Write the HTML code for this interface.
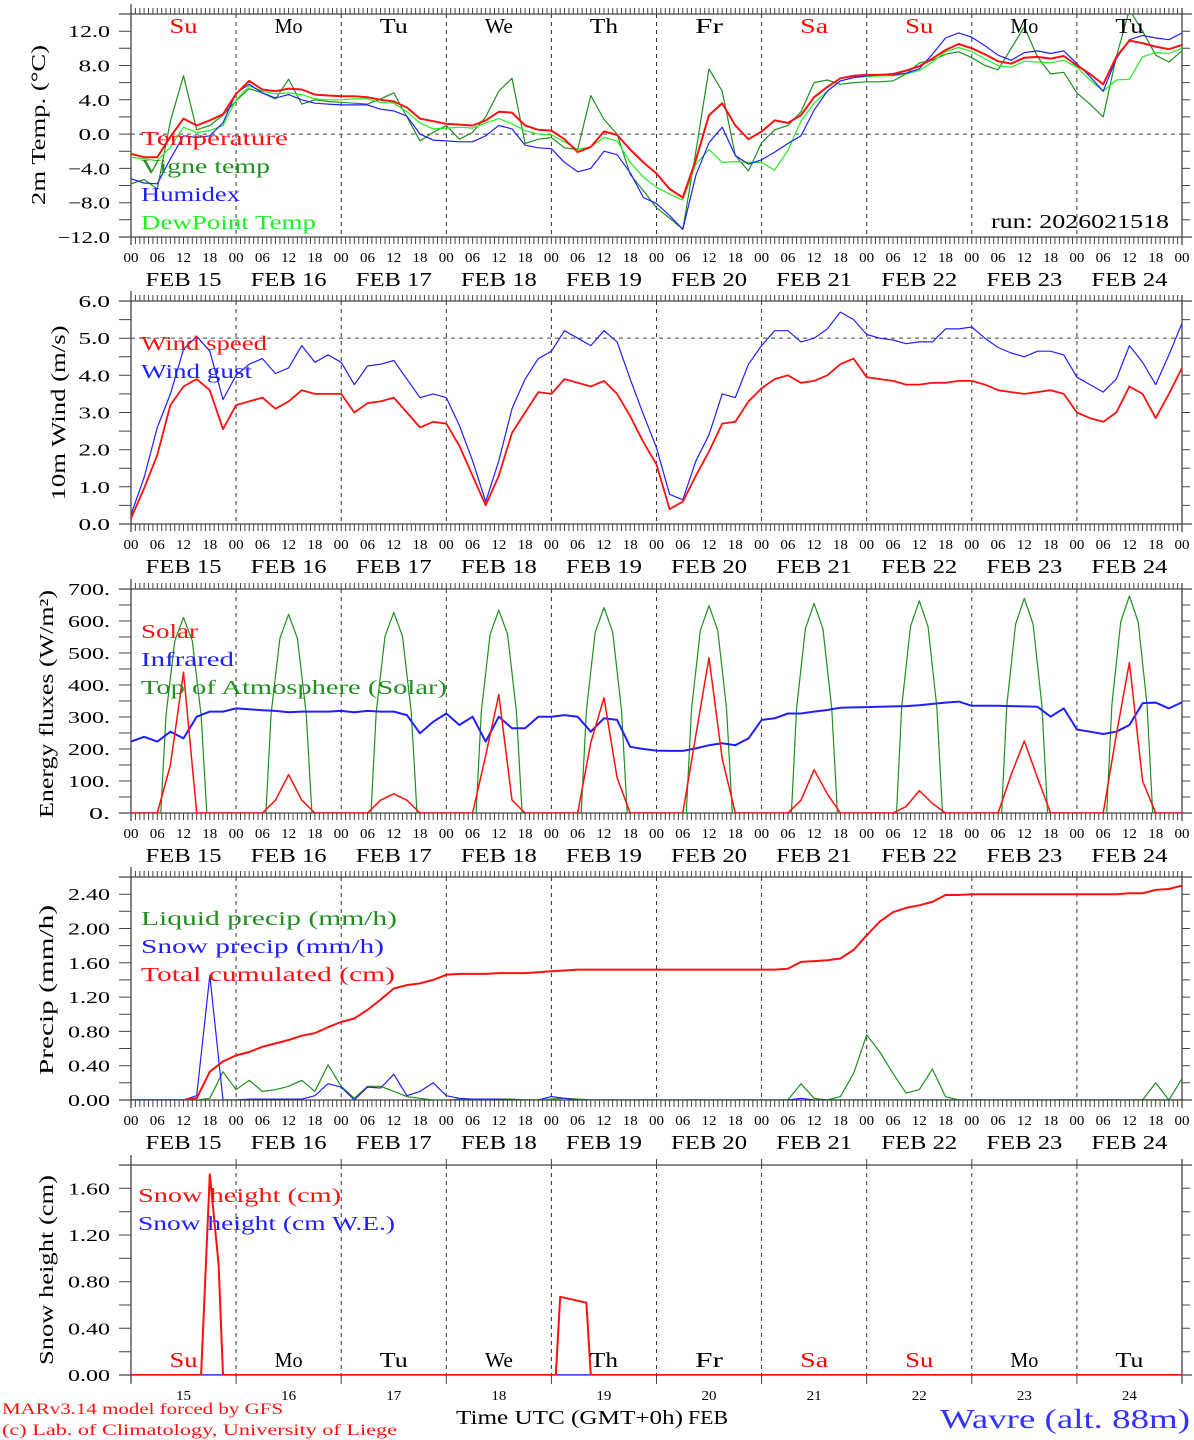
<!DOCTYPE html>
<html><head><meta charset="utf-8"><title>MAR meteogram Wavre</title>
<style>
html,body{margin:0;padding:0;background:#fff;}
svg{display:block;font-family:"Liberation Serif","DejaVu Serif",serif;}
</style></head>
<body>
<svg id="chart" xmlns="http://www.w3.org/2000/svg" width="1194" height="1440" viewBox="0 0 1194 1440"></svg>
<script>
// ---------- data (3-hourly, 81 points: FEB 15 00h .. FEB 25 00h) ----------
const dayNames = ["Su","Mo","Tu","We","Th","Fr","Sa","Su","Mo","Tu"];
const dayNameColors = ["#ff0000","#000","#000","#000","#000","#000","#ff0000","#ff0000","#000","#000"];
const dateLabels = ["FEB 15","FEB 16","FEB 17","FEB 18","FEB 19","FEB 20","FEB 21","FEB 22","FEB 23","FEB 24"];
const dayNumbers = ["15","16","17","18","19","20","21","22","23","24"];
const hourLabels = ["00","06","12","18"];

const tempVals = [-2.3,-2.7,-2.7,-0.3,1.8,1.0,1.6,2.3, 4.7,6.2,5.2,5.0,5.3,5.2,4.6,4.5, 4.4,4.4,4.3,4.0,3.8,3.1,1.8,1.5, 1.2,1.1,1.0,1.6,2.6,2.5,1.0,0.5, 0.4,-0.6,-2.1,-1.5,0.3,-0.1,-1.8,-3.3, -4.6,-6.4,-7.4,-3.0,2.2,3.6,1.0,-0.6, 0.3,1.6,1.3,2.2,4.3,5.5,6.5,6.8, 6.9,6.9,7.0,7.4,7.9,8.8,9.8,10.5, 10.0,9.3,8.5,8.2,8.9,9.0,8.8,9.1, 8.0,7.0,5.8,9.0,10.9,10.6,10.2,9.9,10.4];
const vigneVals = [-5.8,-5.3,-6.4,1.5,6.8,0.5,1.0,2.2, 3.9,5.3,4.8,4.1,6.4,3.5,4.0,3.8, 3.7,3.6,3.5,4.1,4.8,2.0,-0.8,0.2, 1.0,-0.6,0.2,2.0,5.0,6.5,-1.1,-0.6, -0.4,-1.6,-1.8,4.5,1.7,0.0,-4.7,-6.6, -8.6,-9.8,-11.1,-2.0,7.6,5.0,-2.5,-4.3, -1.0,0.5,1.0,2.6,6.0,6.3,5.8,6.0, 6.1,6.1,6.2,7.0,8.3,8.6,9.3,9.6, 8.9,8.0,7.5,10.0,12.5,9.0,7.0,7.2, 4.8,3.5,2.0,9.0,14.5,12.0,9.2,8.4,9.7];
const humidexVals = [-5.2,-5.7,-5.8,-2.9,-0.2,-0.4,-0.2,1.3, 4.8,5.8,4.8,4.2,4.6,4.0,3.6,3.5, 3.4,3.4,3.4,2.9,2.7,2.1,0.0,-0.7, -0.8,-0.9,-0.9,-0.2,1.0,0.6,-1.3,-1.6, -1.7,-3.3,-4.4,-4.0,-2.0,-2.4,-4.5,-7.4, -8.1,-9.5,-11.1,-4.8,-1.0,0.8,-2.5,-3.5, -3.0,-2.1,-1.1,-0.2,2.8,5.0,6.2,6.6, 6.8,6.9,6.9,7.1,7.6,9.3,11.2,11.8, 11.3,10.3,9.2,8.6,9.5,9.7,9.4,9.7, 8.2,6.7,5.0,8.8,11.0,11.5,11.2,11.0,11.8];
const dewVals = [-2.7,-2.9,-3.1,-1.5,0.8,0.2,0.4,1.0, 4.0,5.6,5.0,4.7,4.8,4.6,4.1,4.0, 4.0,4.1,4.1,3.7,3.6,2.6,1.3,0.6, 0.7,0.8,0.7,1.3,1.8,1.2,0.4,0.0, -0.1,-0.9,-1.8,-1.5,-0.4,-0.8,-3.3,-5.0, -6.2,-7.0,-7.7,-3.5,-1.8,-3.3,-3.2,-3.3, -3.3,-4.2,-1.9,1.5,3.6,5.0,6.2,6.6, 6.7,6.8,6.8,7.0,7.4,8.4,9.6,10.1, 9.6,8.8,8.0,7.8,8.5,8.4,8.3,8.6, 7.8,6.3,5.0,6.3,6.4,9.0,9.5,9.4,10.0];

const windVals = [0.15,0.96,1.86,3.2,3.7,3.9,3.6,2.55, 3.2,3.3,3.4,3.1,3.3,3.6,3.5,3.5, 3.5,3.0,3.25,3.3,3.4,3.0,2.6,2.75, 2.7,2.1,1.3,0.5,1.3,2.45,3.0,3.55, 3.5,3.9,3.8,3.7,3.85,3.5,2.9,2.2, 1.6,0.4,0.6,1.3,1.95,2.7,2.75,3.3, 3.65,3.9,4.0,3.8,3.85,4.0,4.3,4.45, 3.95,3.9,3.85,3.75,3.75,3.8,3.8,3.85, 3.85,3.75,3.6,3.55,3.5,3.55,3.6,3.5, 3.0,2.85,2.75,3.0,3.7,3.5,2.85,3.5,4.2];
const gustVals = [0.25,1.25,2.6,3.5,4.7,5.05,4.65,3.35, 4.0,4.3,4.45,4.05,4.2,4.8,4.35,4.55, 4.35,3.75,4.25,4.3,4.4,3.9,3.4,3.5, 3.4,2.65,1.7,0.6,1.7,3.1,3.9,4.45, 4.65,5.2,5.0,4.8,5.2,4.9,3.9,2.95, 2.05,0.8,0.65,1.7,2.4,3.5,3.4,4.3, 4.8,5.2,5.2,4.9,5.0,5.25,5.7,5.5, 5.1,5.0,4.95,4.85,4.9,4.9,5.25,5.25, 5.3,5.0,4.75,4.6,4.5,4.65,4.65,4.55, 3.95,3.75,3.55,3.9,4.8,4.35,3.75,4.55,5.4];

const solarVals = [0,0,0,150,440,0,0,0, 0,0,0,40,120,40,0,0, 0,0,0,40,60,40,0,0, 0,0,0,180,370,40,0,0, 0,0,0,220,360,110,0,0, 0,0,0,244,485,170,0,0, 0,0,0,40,135,60,0,0, 0,0,0,20,70,30,0,0, 0,0,0,120,225,110,0,0, 0,0,0,244,470,100,0,0,0];
const infraredVals = [223,238,223,254,233,301,317,317, 327,324,321,319,315,317,317,317, 319,315,319,317,317,306,249,285, 311,275,301,223,301,265,265,301, 301,306,301,254,296,291,207,200, 195,194,194,202,212,218,212,233, 291,296,311,311,317,322,329,330, 331,332,333,334,337,341,345,348, 335,335,335,334,333,332,301,327, 261,254,247,254,275,343,345,327,346];
const toaHours = [0, 6.8,8,10,12,14,16,17.3, 30.8,32,34,36,38,40,41.3, 54.8,56,58,60,62,64,65.3, 78.8,80,82,84,86,88,89.3, 102.8,104,106,108,110,112,113.3, 126.8,128,130,132,134,136,137.3, 150.8,152,154,156,158,160,161.3, 174.8,176,178,180,182,184,185.3, 198.8,200,202,204,206,208,209.3, 222.8,224,226,228,230,232,233.3, 240];
const toaVals = [0, 0,306,538,611,538,306,0, 0,310,546,621,546,310,0, 0,314,552,627,552,314,0, 0,317,558,634,558,317,0, 0,321,565,642,565,321,0, 0,324,570,648,570,324,0, 0,328,576,655,576,328,0, 0,332,583,663,583,332,0, 0,336,590,671,590,336,0, 0,339,597,678,597,339,0, 0];

const liquidVals = [0,0,0,0,0,0,0.02,0.33, 0.12,0.23,0.10,0.12,0.16,0.23,0.10,0.41, 0.16,0.02,0.16,0.16,0.10,0.04,0.02,0, 0,0.01,0.01,0.01,0.01,0.01,0,0, 0.01,0.02,0.01,0,0,0,0,0, 0,0,0,0,0,0,0,0, 0,0,0,0.19,0.02,0,0.04,0.31, 0.76,0.56,0.31,0.08,0.12,0.36,0.04,0, 0,0,0,0,0,0,0,0, 0,0,0,0,0,0,0.2,0,0.25];
const snowVals = [0,0,0,0,0,0.05,1.45,0, 0,0.01,0.01,0.01,0.01,0.01,0.05,0.19, 0.15,0,0.15,0.14,0.30,0.05,0.10,0.20, 0.05,0.02,0.01,0.01,0.01,0,0,0, 0.04,0.02,0,0,0,0,0,0, 0,0,0,0,0,0,0,0, 0,0,0,0.02,0,0,0,0, 0,0,0,0,0,0,0,0, 0,0,0,0,0,0,0,0, 0,0,0,0,0,0,0,0,0];
const cumulVals = [0,0,0,0,0,0.02,0.33,0.45, 0.52,0.56,0.62,0.66,0.70,0.75,0.78,0.85, 0.91,0.95,1.05,1.17,1.30,1.34,1.36,1.40, 1.46,1.47,1.47,1.47,1.48,1.48,1.48,1.49, 1.50,1.51,1.52,1.52,1.52,1.52,1.52,1.52, 1.52,1.52,1.52,1.52,1.52,1.52,1.52,1.52, 1.52,1.52,1.53,1.61,1.62,1.63,1.65,1.75, 1.92,2.08,2.19,2.24,2.27,2.31,2.39,2.39, 2.40,2.40,2.40,2.40,2.40,2.40,2.40,2.40, 2.40,2.40,2.40,2.40,2.41,2.41,2.45,2.46,2.50];

const snowHeightHours = [0,16,18,20,21,97,98,104,105,240];
const snowHeightVals = [0,0,1.72,0.95,0,0,0.67,0.62,0,0];
const snowWEHours = [0,240];
const snowWEVals = [0,0];

// ---------- layout ----------
const NS = "http://www.w3.org/2000/svg";
const svg = document.getElementById("chart");
const X0 = 131, X1 = 1182, DAYW = (X1 - X0) / 10;
function xh(h){ return X0 + h * DAYW / 24; }
const panels = [
  {top:14, bot:237, min:-12, max:14, step:2, lab:4, fmt:v=>v.toFixed(1), name:"temperature-panel"},
  {top:301, bot:524, min:0, max:6, step:0.5, lab:1, fmt:v=>v.toFixed(1), name:"wind-panel"},
  {top:589, bot:813, min:0, max:700, step:50, lab:100, fmt:v=>v.toFixed(0)+".", name:"energy-panel"},
  {top:877, bot:1100, min:0, max:2.6, step:0.2, lab:0.4, fmt:v=>v.toFixed(2), name:"precip-panel"},
  {top:1165, bot:1375, min:0, max:1.8, step:0.2, lab:0.4, fmt:v=>v.toFixed(2), name:"snow-panel"}
];
function yv(p, v){ return p.bot - (v - p.min) * (p.bot - p.top) / (p.max - p.min); }

function mk(tag, attrs, parent){
  const e = document.createElementNS(NS, tag);
  for (const k in attrs) e.setAttribute(k, attrs[k]);
  (parent || svg).appendChild(e);
  return e;
}
function txt(str, x, y, size, color, anchor, len, parent){
  const t = mk("text", {x:x, y:y, "font-size":size, fill:color, "text-anchor":anchor}, parent);
  if (len){ t.setAttribute("textLength", len); t.setAttribute("lengthAdjust", "spacingAndGlyphs"); }
  t.textContent = str;
  return t;
}

const defs = mk("defs", {});
panels.forEach((p, i) => {
  const cp = mk("clipPath", {id:"clip"+i}, defs);
  mk("rect", {x:X0, y:p.top, width:X1-X0, height:p.bot-p.top}, cp);
});

panels.forEach((p, pi) => {
  const g = mk("g", {});
  
  
  for (let d = 1; d < 10; d++){
    const l = mk("line", {x1:xh(d*24), x2:xh(d*24), y1:p.top, y2:p.bot, stroke:"#333", "stroke-width":1, "stroke-dasharray":"4,4"}, g);
    
    
  }
  const fr = mk("path", {d:`M119 ${p.top}H1192M119 ${p.bot}H1192M${X0} ${p.top-10}V${p.bot+8}M${X1} ${p.top-6}V${p.bot+8}`, stroke:"#444", "stroke-width":1.3, fill:"none"}, g);
  
  
  let td = "";
  const n = Math.round((p.max - p.min) / p.step);
  for (let k = 0; k <= n; k++){
    const v = p.min + k * p.step;
    const y = yv(p, v).toFixed(1);
    td += `M119 ${y}H${X0}M${X1} ${y}H1190`;
    const r = Math.abs((v - p.min) / p.lab - Math.round((v - p.min) / p.lab));
    if (r < 1e-6 && v <= p.max - (pi === 0 ? 2 : pi === 3 || pi === 4 ? 0.2 : 0) + 1e-9){
      let s = p.fmt(v); if (v < 0) s = "\u2212" + s.slice(1);
      const t = txt(s, 110, +y + 6, 17, "#000", "end", s.length * 10.5, g);
      
      
    }
  }
  if (pi < 4){
    for (let h = 0; h <= 240; h++){
      const x = xh(h).toFixed(1);
      td += `M${x} ${p.top-6}V${p.top}M${x} ${p.bot}V${p.bot+7}`;
    }
    for (let d = 0; d < 10; d++){
      for (let j = 0; j < 4; j++){
        const t = txt(hourLabels[j], xh(d*24 + j*6), p.bot + 25, 14, "#000", "middle", 15, g);
        
        
      }
      const dl = txt(dateLabels[d], xh(d*24 + 12), p.bot + 49, 20, "#000", "middle", 76, g);
      
      
    }
    const t = txt("00", xh(240), p.bot + 25, 14, "#000", "middle", 15, g);
    
    
  } else {
    for (let d = 0; d <= 10; d++){
      const x = xh(d*24).toFixed(1);
      td += `M${x} ${p.top-6}V${p.top}M${x} ${p.bot}V${p.bot+9}`;
    }
  }
  const tk = mk("path", {d:td, stroke:"#444", "stroke-width":1, fill:"none"}, g);
  
  
});

{
  const p = panels[0];
  const l = mk("line", {x1:X0, x2:X1, y1:yv(p,0), y2:yv(p,0), stroke:"#444", "stroke-dasharray":"4,4"});
  
  
  const q = panels[1];
  const l2 = mk("line", {x1:X0, x2:X1, y1:yv(q,5), y2:yv(q,5), stroke:"#444", "stroke-dasharray":"4,4"});
  
  
}

function series(pi, vals, color, w, name, hours){
  const p = panels[pi];
  let d = "";
  vals.forEach((v, k) => {
    const h = hours ? hours[k] : k * 3;
    d += (k ? "L" : "M") + xh(h).toFixed(1) + " " + yv(p, v).toFixed(1);
  });
  const e = mk("path", {d:d, stroke:color, "stroke-width":w, fill:"none", "clip-path":`url(#clip${pi})`, "stroke-linejoin":"round"});
  
  
}
const RED = "#ff1010", DG = "#1f8f1f", BL = "#2020ff", LG = "#20f020";
series(0, vigneVals, DG, 1.2, "vigne-temp-line");
series(0, dewVals, LG, 1.2, "dewpoint-line");
series(0, humidexVals, BL, 1.2, "humidex-line");
series(0, tempVals, RED, 2, "temperature-line");
series(1, gustVals, BL, 1.2, "wind-gust-line");
series(1, windVals, RED, 1.8, "wind-speed-line");
series(2, toaVals, DG, 1.2, "toa-solar-line", toaHours);
series(2, infraredVals, BL, 2, "infrared-line");
series(2, solarVals, RED, 1.5, "solar-line");
series(3, liquidVals, DG, 1.2, "liquid-precip-line");
series(3, snowVals, BL, 1.2, "snow-precip-line");
series(3, cumulVals, RED, 2, "total-cumulated-line");
series(4, snowWEVals, BL, 1.5, "snow-we-line", snowWEHours);
series(4, snowHeightVals, RED, 2, "snow-height-line", snowHeightHours);

for (let d = 0; d < 10; d++){
  const t = txt(dayNames[d], xh(d*24+12), 33, 21, dayNameColors[d], "middle", dayNames[d].length*14);
  
  
  const b = txt(dayNames[d], xh(d*24+12), 1367, 21, dayNameColors[d], "middle", dayNames[d].length*14);
  
  
  const nn = txt(dayNumbers[d], xh(d*24+12), 1400, 14, "#000", "middle", 15);
  
  
}

const legends = [
  ["Temperature",141,145,RED,147],["Vigne temp",141,173,DG,129],["Humidex",141,201,BL,99],["DewPoint Temp",141,229,LG,175],
  ["Wind speed",141,350,RED,126],["Wind gust",141,378,BL,111],
  ["Solar",141,638,RED,57],["Infrared",141,666,BL,93],["Top of Atmosphere (Solar)",141,694,DG,306],
  ["Liquid precip (mm/h)",141,925,DG,256],["Snow precip (mm/h)",141,953,BL,243],["Total cumulated (cm)",141,981,RED,254],
  ["Snow height (cm)",138,1202,RED,203],["Snow height (cm W.E.)",138,1230,BL,257]
];
legends.forEach(l => {
  const t = txt(l[0], l[1], l[2], 20, l[3], "start", l[4]);
  
  
});
{
  const r = txt("run: 2026021518", 1169, 228, 20, "#000", "end", 178);
  
  
}

const yTitles = [["2m Temp. (\u00b0C)",38,125,160],["10m Wind (m/s)",58,413,175],["Energy fluxes (W/m\u00b2)",46,704,228],["Precip (mm/h)",46,990,170],["Snow height (cm)",46,1270,190]];
yTitles.forEach(a => {
  const t = txt(a[0], a[1], a[2], 20, "#000", "middle", a[3]);
  t.setAttribute("transform", `rotate(-90 ${a[1]} ${a[2]})`);
  t.setAttribute("dy", "7");
  
  
});

{
  const a = txt("MARv3.14 model forced by GFS", 2, 1414, 16, RED, "start", 281);
  
  
  const b = txt("(c) Lab. of Climatology, University of Liege", 2, 1435, 16, RED, "start", 395);
  
  
  const c = txt("Time UTC (GMT+0h)", 456, 1424, 20, "#000", "start", 227);
  
  
  const d = txt("FEB", 688, 1424, 20, "#000", "start", 40);
  
  
  const e = txt("Wavre (alt. 88m)", 1190, 1428, 27, "#3333ff", "end", 250);
  
  
}
</script>
</body></html>
